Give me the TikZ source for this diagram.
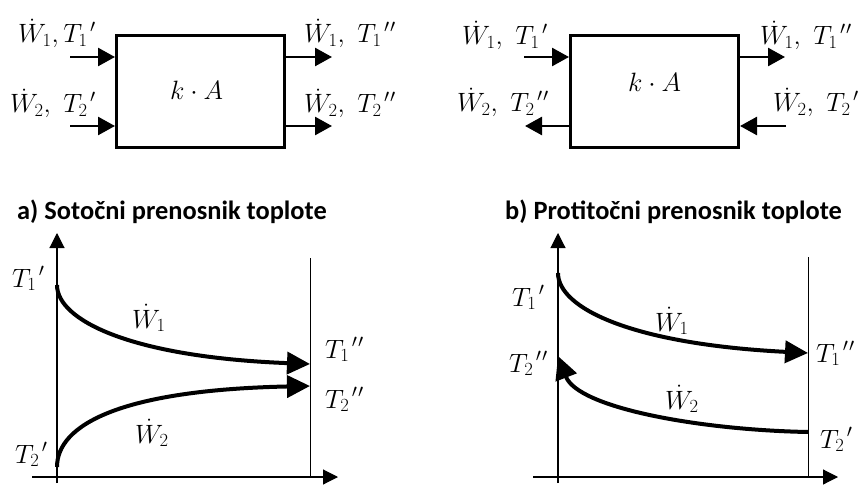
\RequirePackage{fix-cm}
\documentclass[tikz,border=0pt]{standalone}
\usepackage{fontspec}
\newfontfamily\calib{Carlito}
\usetikzlibrary{arrows.meta}
\newcommand\cs{,\hspace{8pt}}
\newcommand\pp{^{\kern2.5pt\prime}}
\newcommand\ppp{^{\kern2.5pt\prime\kern1pt\prime}}
\tikzset{
  lbl/.style={anchor=base west, inner sep=0pt, font=\fontsize{26.5}{32}\selectfont},
  ttl/.style={anchor=base west, inner sep=0pt, font=\calib\bfseries\fontsize{26.4}{31}\selectfont},
  hxbox/.style={draw, line width=2.7pt, minimum width=168.3pt, minimum height=112.3pt, inner sep=0pt},
  flow/.style={line width=2.6pt, -{Triangle[length=17pt,width=18pt]}},
  axis/.style={line width=1.1pt, -{Triangle[length=15pt,width=15pt]}},
  thin/.style={line width=1pt},
  curve/.style={line width=4pt, -{Triangle[length=23pt,width=22pt]}}
}
\begin{document}
\begin{tikzpicture}[x=1pt,y=-1pt]
\useasboundingbox (0,0) rectangle (861,489);
% ---------- top left: parallel flow ----------
\node[hxbox] (boxA) at (200.5,91.5) {};
\node[lbl] (kA) at (170,100) {$k\cdot A$};
\coordinate (a1in) at (70,57);
\coordinate (a2in) at (70,126);
\coordinate (a1out) at (332,57);
\coordinate (a2out) at (332,126);
\draw[flow] (a1in) -- (a1in -| boxA.west);
\draw[flow] (a2in) -- (a2in -| boxA.west);
\draw[flow] (a1out -| boxA.east) -- (a1out);
\draw[flow] (a2out -| boxA.east) -- (a2out);
\node[lbl] (la1) at (18,43) {$\dot W_1,{T_1}\pp$};
\node[lbl] (la2) at (10,113) {$\dot W_2\cs{T_2}\pp$};
\node[lbl] (la3) at (304,43) {$\dot W_1\cs{T_1}\ppp$};
\node[lbl] (la4) at (304,113) {$\dot W_2\cs{T_2}\ppp$};
% ---------- top right: counter flow ----------
\node[hxbox] (boxB) at (654.5,91.5) {};
\node[lbl] (kB) at (628,92) {$k\cdot A$};
\coordinate (b1in) at (524,57);
\coordinate (b2out) at (525,126);
\coordinate (b1out) at (785,57);
\coordinate (b2in) at (786,126);
\draw[flow] (b1in) -- (b1in -| boxB.west);
\draw[flow] (b2out -| boxB.west) -- (b2out);
\draw[flow] (b1out -| boxB.east) -- (b1out);
\draw[flow] (b2in) -- (b2in -| boxB.east);
\node[lbl] (lb1) at (462,45) {$\dot W_1\cs{T_1}\pp$};
\node[lbl] (lb2) at (457,112) {$\dot W_2\cs{T_2}\ppp$};
\node[lbl] (lb3) at (760,45) {$\dot W_1\cs{T_1}\ppp$};
\node[lbl] (lb4) at (773,112) {$\dot W_2\cs{T_2}\pp$};
% ---------- titles ----------
\node[ttl] (ta) at (17,219) {a) Sotočni prenosnik toplote};
\node[ttl] (tb) at (505,219) {b) Protitočni prenosnik toplote};
% ---------- graph a ----------
\coordinate (ay0) at (57,483);
\coordinate (ay1) at (57,233);
\coordinate (ax0) at (32,477);
\coordinate (ax1) at (338,477);
\coordinate (av0) at (310,258);
\coordinate (av1) at (310,477);
\draw[axis] (ay0) -- (ay1);
\draw[axis] (ax0) -- (ax1);
\draw[thin] (av0) -- (av1);
\coordinate (aw1s) at (57,285);
\coordinate (aw1e) at (310,364);
\coordinate (aw2s) at (57,467);
\coordinate (aw2e) at (310,386);
\draw[curve] (aw1s) .. controls (57,320) and (130,357) .. (aw1e);
\draw[curve] (aw2s) .. controls (57,425) and (120,390) .. (aw2e);
\node[lbl] (pa1) at (12,287) {${T_1}\pp$};
\node[lbl] (pa2) at (132,328) {$\dot W_1$};
\node[lbl] (pa3) at (325,358) {${T_1}\ppp$};
\node[lbl] (pa4) at (325,408) {${T_2}\ppp$};
\node[lbl] (pa5) at (135,443) {$\dot W_2$};
\node[lbl] (pa6) at (15,463) {${T_2}\pp$};
% ---------- graph b ----------
\coordinate (by0) at (558,483);
\coordinate (by1) at (558,233);
\coordinate (bx0) at (533,477);
\coordinate (bx1) at (838,477);
\coordinate (bv0) at (808,257);
\coordinate (bv1) at (808,477);
\draw[axis] (by0) -- (by1);
\draw[axis] (bx0) -- (bx1);
\draw[thin] (bv0) -- (bv1);
\coordinate (bw1s) at (558,273);
\coordinate (bw1e) at (808,353);
\coordinate (bw2s) at (808,432);
\coordinate (bw2e) at (558,356);
\draw[curve] (bw1s) .. controls (558,308) and (631,344) .. (bw1e);
\draw[curve] (bw2s) .. controls (700,430) and (578,408) .. (bw2e);
\node[lbl] (pb1) at (512,306) {${T_1}\pp$};
\node[lbl] (pb2) at (655,331) {$\dot W_1$};
\node[lbl] (pb3) at (816,362) {${T_1}\ppp$};
\node[lbl] (pb4) at (509,372) {${T_2}\ppp$};
\node[lbl] (pb5) at (665,409) {$\dot W_2$};
\node[lbl] (pb6) at (820,448) {${T_2}\pp$};
\end{tikzpicture}
\end{document}
